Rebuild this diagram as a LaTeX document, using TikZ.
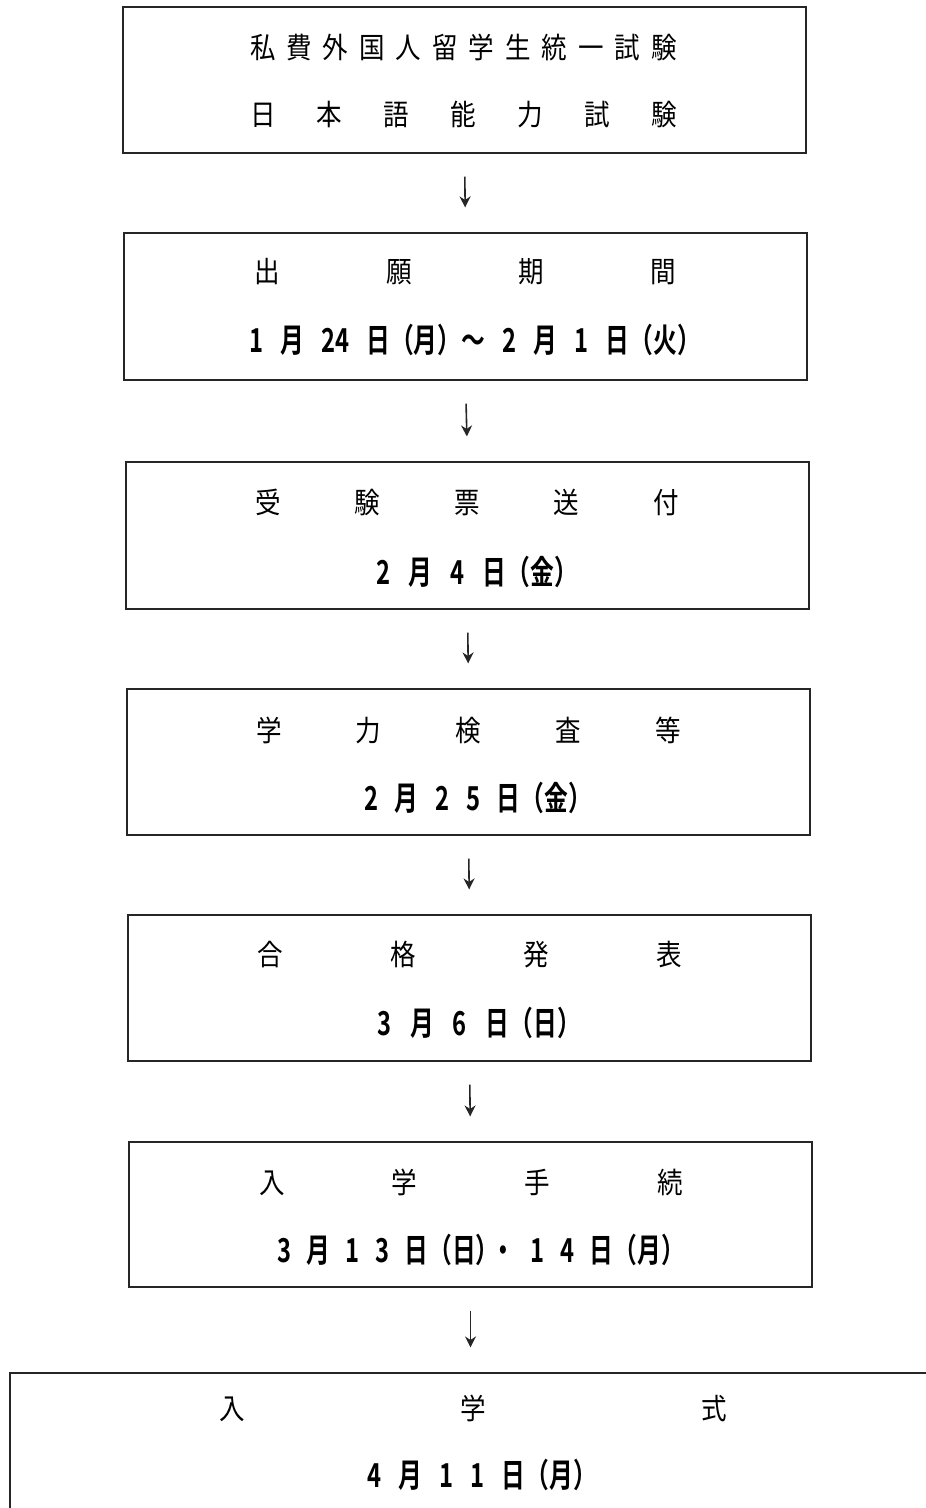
\documentclass[tikz,border=0pt]{standalone}
\usepackage{fontspec}
\usetikzlibrary{arrows.meta}
\newfontfamily\jpt[FakeStretch=0.88]{Noto Sans CJK JP}
\newfontfamily\jpd[FakeStretch=0.72]{Noto Sans CJK JP Bold}
\tikzset{
  box/.style={draw=black!85, line width=1.2pt, inner sep=0pt},
  ttl/.style={inner sep=0pt, font=\jpt\fontsize{29pt}{30pt}\selectfont},
  dte/.style={inner sep=0pt, font=\jpd\fontsize{33pt}{34pt}\selectfont},
  flow/.style={line width=1.6pt, draw=black!85, -{Stealth[length=11pt,width=11pt]}, shorten <=23pt, shorten >=25pt}
}
\begin{document}
\begin{tikzpicture}[x=1pt,y=-1pt]
\clip (0,0) rectangle (926,1508);
\fill[white] (0,0) rectangle (926,1508);
% boxes
\node[box, minimum width=683pt, minimum height=146pt] (b1) at (464.5,80) {};
\node[box, minimum width=683pt, minimum height=147pt] (b2) at (465.5,306.5) {};
\node[box, minimum width=683pt, minimum height=147pt] (b3) at (467.5,535.5) {};
\node[box, minimum width=683pt, minimum height=146pt] (b4) at (468.5,762) {};
\node[box, minimum width=683pt, minimum height=146pt] (b5) at (469.5,988) {};
\node[box, minimum width=683pt, minimum height=145pt] (b6) at (470.5,1214.5) {};
\node[box, minimum width=930pt, minimum height=150pt] (b7) at (475,1448) {};
% titles
\node[ttl] (t1a) at (463.5,47) {\makebox[427pt][s]{私 費 外 国 人 留 学 生 統 一 試 験}};
\node[ttl] (t1b) at (463.5,115) {\makebox[427pt][s]{日 本 語 能 力 試 験}};
\node[ttl] (t2) at (465,272) {\makebox[422pt][s]{出 願 期 間}};
\node[ttl] (t3) at (467,502) {\makebox[424pt][s]{受 験 票 送 付}};
\node[ttl] (t4) at (468.5,730) {\makebox[425pt][s]{学 力 検 査 等}};
\node[ttl] (t5) at (469.5,955) {\makebox[425pt][s]{合 格 発 表}};
\node[ttl] (t6) at (471,1182) {\makebox[424pt][s]{入 学 手 続}};
\node[ttl] (t7) at (473,1408) {\makebox[508pt][s]{入 学 式}};
% dates
\node[dte] (d2) at (475,340) {\makebox[452pt][s]{1 月 24 日（月）～ 2 月 1 日（火）}};
\node[dte] (d3) at (477,572) {\makebox[202pt][s]{2 月 4 日（金）}};
\node[dte] (d4) at (478,798) {\makebox[228pt][s]{2 月 2 5 日（金）}};
\node[dte] (d5) at (479,1023) {\makebox[204pt][s]{3 月 6 日（日）}};
\node[dte] (d6) at (481,1250) {\makebox[408pt][s]{3 月 1 3 日（日）\kern-8pt・ 1 4 日（月）}};
\node[dte] (d7) at (482,1475) {\makebox[230pt][s]{4 月 1 1 日（月）}};
% arrows
\draw[flow] (b1.south) -- (b2.north);
\draw[flow] (b2.south) -- (b3.north);
\draw[flow] (b3.south) -- (b4.north);
\draw[flow] (b4.south) -- (b5.north);
\draw[flow] (b5.south) -- (b6.north);
\draw[flow] (b6.south) -- (b6.south |- b7.north);
\end{tikzpicture}
\end{document}
